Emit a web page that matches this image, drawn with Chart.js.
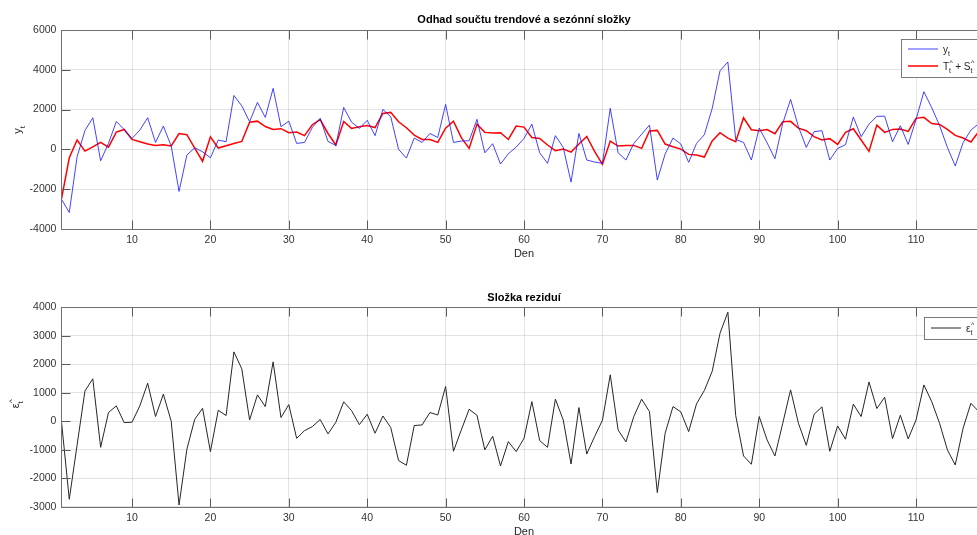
<!DOCTYPE html>
<html>
<head>
<meta charset="utf-8">
<script src="https://cdn.jsdelivr.net/npm/chart.js@4.4.1/dist/chart.umd.min.js"></script>
<style>
  html, body { margin: 0; padding: 0; background: #fff; width: 977px; height: 535px; overflow: hidden; }
  .pane { position: absolute; left: 0; width: 990px; }
</style>
</head>
<body>
<div class="pane" style="top:0;height:268px"><canvas id="fitChart" width="990" height="268"></canvas></div>
<div class="pane" style="top:268px;height:267px"><canvas id="residChart" width="990" height="267"></canvas></div>
<script>
// observed daily values y_t
const observed = [
  -2500, -3170, -370, 950, 1590, -570, 300, 1400, 1000, 550,
  970, 1590, 350, 1170, 170, -2110, -285, 80, -120, -420,
  470, 385, 2710, 2190, 1390, 2360, 1610, 3065, 1140, 1420,
  300, 350, 1100, 1560, 400, 200, 2110, 1370, 1055, 1460,
  690, 2010, 1640, 0, -435, 570, 350, 800, 600, 2260,
  350, 420, 435, 1510, -170, 285, -735, -220, 115, 550,
  1270, -170, -700, 690, 100, -1640, 800, -535, -635, -700,
  2060, -170, -535, 300, 760, 1220, -1540, -235, 570, 270,
  -650, 300, 740, 2060, 3950, 4390, 500, 350, -535, 1070,
  335, -470, 1310, 2510, 1140, 100, 890, 940, -535, 50,
  235, 1625, 640, 1270, 1660, 1670, 385, 1190, 250, 1500,
  2900, 2100, 1200, 100, -830, 335, 970, 1300
];

// estimated trend + seasonal component
const fitted = [
  -2500, -420, 470, -85, 130, 350, 115, 870, 1000, 500,
  385, 270, 200, 235, 170, 800, 740, 70, -600, 630,
  70, 185, 300, 400, 1370, 1420, 1150, 1000, 1040, 840,
  870, 690, 1240, 1500, 800, 220, 1400, 1055, 1140, 1200,
  1100, 1810, 1860, 1390, 1090, 720, 500, 500, 350, 1070,
  1420, 590, 50, 1270, 855, 820, 840, 500, 1170, 1120,
  600, 550, 220, -65, 15, -135, 270, 650, -100, -750,
  420, 170, 200, 200, 50, 930, 955, 270, 130, 15,
  -250, -285, -385, 420, 840, 570, 385, 1590, 990, 940,
  1000, 790, 1390, 1410, 1070, 940, 640, 470, 540, 250,
  855, 1040, 470, -100, 1220, 855, 1005, 1020, 905, 1560,
  1610, 1300, 1255, 1005, 705, 570, 370, 900
];

// residual component
const residuals = [
  0, -2740, -830, 1065, 1490, -915, 305, 540, -47, -35,
  540, 1335, 165, 950, 0, -2940, -985, 70, 455, -1065,
  385, 200, 2435, 1840, 45, 925, 515, 2085, 130, 585,
  -600, -330, -190, 60, -445, -35, 680, 375, -120, 245,
  -420, 185, -220, -1380, -1545, -150, -130, 305, 220, 1220,
  -1055, -305, 420, 210, -1005, -525, -1570, -715, -1065, -600,
  690, -680, -915, 775, 45, -1500, 480, -1150, -540, 35,
  1630, -305, -725, 165, 775, 340, -2505, -420, 515, 330,
  -365, 610, 1080, 1755, 3090, 3830, 200, -1220, -1510, 165,
  -655, -1220, -70, 1100, -70, -845, 245, 505, -1055, -165,
  -630, 600, 165, 1380, 445, 845, -610, 210, -620, 45,
  1275, 690, -70, -1005, -1535, -245, 630, 340
];

const dayTicks = [10, 20, 30, 40, 50, 60, 70, 80, 90, 100, 110];
const fitYTicks = [-4000, -2000, 0, 2000, 4000, 6000];
const residYTicks = [-3000, -2000, -1000, 0, 1000, 2000, 3000, 4000];

const FONT = '"Liberation Sans", Arial, Helvetica, sans-serif';

function toPoints(values) {
  return values.map((v, i) => ({ x: i + 1, y: v }));
}

// text with subscript / superscript pieces, e.g. T with ^ over a subscript t
function richText(ctx, parts, x, y, size, draw) {
  let cx = x;
  parts.forEach(p => {
    ctx.font = size + 'px ' + FONT;
    if (p.text) {
      if (draw) ctx.fillText(p.text, cx, y);
      cx += ctx.measureText(p.text).width;
    }
    if (p.sub || p.sup) {
      ctx.font = Math.round(size * 0.72) + 'px ' + FONT;
      let w = 0;
      if (p.sup) {
        if (draw) ctx.fillText(p.sup, cx + 0.5, y - size * 0.42);
        w = ctx.measureText(p.sup).width;
      }
      if (p.sub) {
        if (draw) ctx.fillText(p.sub, cx, y + size * 0.32);
        w = Math.max(w, ctx.measureText(p.sub).width);
      }
      cx += w;
    }
  });
  return cx - x;
}

// axes box, inward ticks, titles and legend drawn like a MATLAB figure
function axesFrame(info) {
  return {
    id: 'axesFrame',
    afterDatasetsDraw(chart) {
      const ctx = chart.ctx;
      const a = chart.chartArea;
      const L = Math.round(a.left) + 0.5, R = Math.round(a.right) + 0.5;
      const T = Math.round(a.top) + 0.5, B = Math.round(a.bottom) + 0.5;
      ctx.save();
      ctx.lineWidth = 1;
      ctx.strokeStyle = '#5a5a5a';
      ctx.beginPath();
      chart.scales.x.ticks.forEach(t => {
        const px = Math.round(chart.scales.x.getPixelForValue(t.value)) + 0.5;
        ctx.moveTo(px, T); ctx.lineTo(px, T + 9);
        ctx.moveTo(px, B); ctx.lineTo(px, B - 9);
      });
      chart.scales.y.ticks.forEach(t => {
        const py = Math.round(chart.scales.y.getPixelForValue(t.value)) + 0.5;
        ctx.moveTo(L, py); ctx.lineTo(L + 9, py);
        ctx.moveTo(R, py); ctx.lineTo(R - 9, py);
      });
      ctx.stroke();
      ctx.strokeStyle = '#707070';
      ctx.strokeRect(L, T, R - L, B - T);

      // title
      ctx.fillStyle = '#000';
      ctx.font = 'bold 11px ' + FONT;
      ctx.textAlign = 'center';
      ctx.textBaseline = 'middle';
      ctx.fillText(info.title, (a.left + a.right) / 2, info.titleY);

      // x label
      ctx.fillStyle = '#262626';
      ctx.font = '11px ' + FONT;
      ctx.fillText('Den', (a.left + a.right) / 2, info.xLabelY);

      // y label, rotated
      ctx.textAlign = 'left';
      ctx.textBaseline = 'alphabetic';
      ctx.save();
      ctx.translate(info.yLabelX, info.yLabelY);
      ctx.rotate(-Math.PI / 2);
      const w = richText(ctx, info.yLabel, 0, 0, 11, false);
      richText(ctx, info.yLabel, -w / 2, 0, 11, true);
      ctx.restore();

      // legend
      const lg = info.legend;
      ctx.fillStyle = '#fff';
      ctx.fillRect(lg.x, lg.y, lg.w, lg.h);
      ctx.strokeStyle = '#7a7a7a';
      ctx.strokeRect(lg.x + 0.5, lg.y + 0.5, lg.w, lg.h);
      lg.rows.forEach((row, i) => {
        const ry = lg.y + lg.firstRow + i * lg.rowGap;
        ctx.strokeStyle = row.color;
        ctx.lineWidth = row.width;
        ctx.beginPath();
        ctx.moveTo(lg.x + 7, ry);
        ctx.lineTo(lg.x + 37, ry);
        ctx.stroke();
        ctx.fillStyle = '#262626';
        richText(ctx, row.label, lg.x + 42, ry + 3.5, 10, true);
      });
      ctx.restore();
    }
  };
}

function makeChart(id, datasets, yTicks, padTop, xAxisHeight, info) {
  const ctx = document.getElementById(id).getContext('2d');
  return new Chart(ctx, {
    type: 'line',
    data: { datasets: datasets },
    options: {
      responsive: false,
      animation: false,
      layout: { padding: { top: padTop, right: 3.4, left: 0, bottom: 0 } },
      elements: { point: { radius: 0 }, line: { tension: 0 } },
      plugins: { legend: { display: false }, title: { display: false }, tooltip: { enabled: false } },
      scales: {
        x: {
          type: 'linear',
          min: 1,
          max: 119,
          afterBuildTicks: s => { s.ticks = dayTicks.map(v => ({ value: v })); },
          afterFit: s => { s.height = xAxisHeight; },
          grid: { color: 'rgba(38,38,38,0.13)', drawTicks: false },
          border: { display: false },
          ticks: {
            padding: 5, autoSkip: false, maxRotation: 0, color: '#333',
            font: { family: FONT, size: 10.5 },
            callback: v => String(v)
          }
        },
        y: {
          min: yTicks[0],
          max: yTicks[yTicks.length - 1],
          afterBuildTicks: s => { s.ticks = yTicks.map(v => ({ value: v })); },
          afterFit: s => { s.width = 61.44; },
          grid: { color: 'rgba(38,38,38,0.13)', drawTicks: false },
          border: { display: false },
          ticks: {
            padding: 5, color: '#333',
            font: { family: FONT, size: 10.5 },
            callback: v => String(v)
          }
        }
      }
    },
    plugins: [axesFrame(info)]
  });
}

makeChart('fitChart', [
  { label: 'y_t', data: toPoints(observed), borderColor: 'rgba(20,20,255,0.8)', borderWidth: 1 },
  { label: 'T_t + S_t', data: toPoints(fitted), borderColor: '#ff0000', borderWidth: 1.5 }
], fitYTicks, 30, 39, {
  title: 'Odhad součtu trendové a sezónní složky',
  titleY: 20,
  xLabelY: 254,
  yLabelX: 21,
  yLabelY: 130,
  yLabel: [{ text: 'y', sub: 't' }],
  legend: {
    x: 901, y: 39, w: 90, h: 38, firstRow: 10, rowGap: 17,
    rows: [
      { color: 'rgba(20,20,255,0.8)', width: 1, label: [{ text: 'y', sub: 't' }] },
      { color: '#ff0000', width: 1.5, label: [{ text: 'T', sub: 't', sup: '^' }, { text: ' + S', sub: 't', sup: '^' }] }
    ]
  }
});

makeChart('residChart', [
  { label: 'e_t', data: toPoints(residuals), borderColor: '#262626', borderWidth: 1 }
], residYTicks, 39.3, 28.3, {
  title: 'Složka reziduí',
  titleY: 29.7,
  xLabelY: 264,
  yLabelX: 19,
  yLabelY: 136,
  yLabel: [{ text: 'ε', sub: 't', sup: '^' }],
  legend: {
    x: 924, y: 49, w: 70, h: 22, firstRow: 11, rowGap: 0,
    rows: [
      { color: '#262626', width: 1, label: [{ text: 'ε', sub: 't', sup: '^' }] }
    ]
  }
});
</script>
</body>
</html>
